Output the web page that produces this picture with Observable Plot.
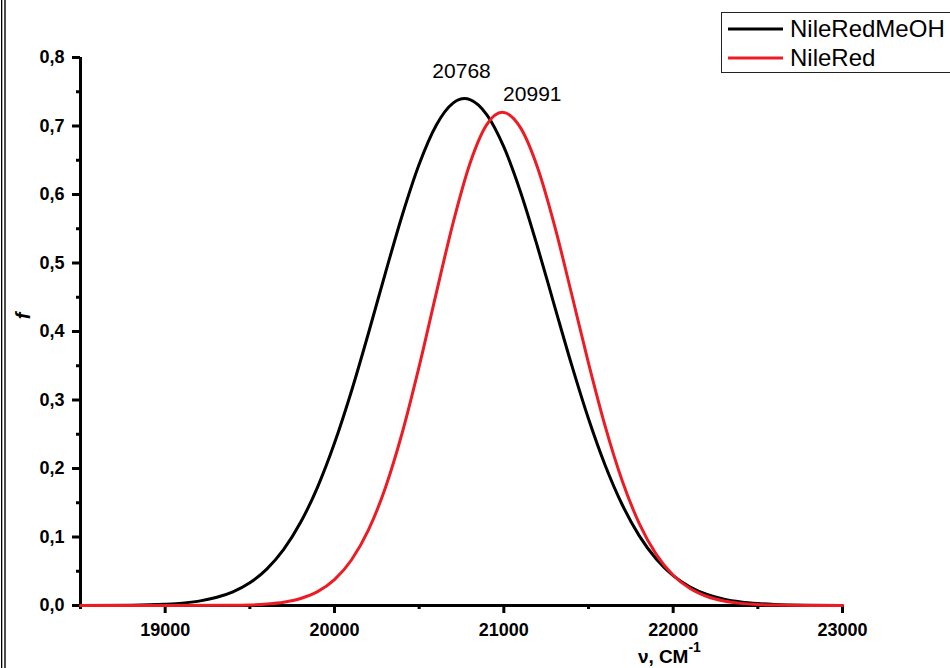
<!DOCTYPE html>
<html>
<head>
<meta charset="utf-8">
<script src="https://cdn.jsdelivr.net/npm/d3@7"></script>
<script src="https://cdn.jsdelivr.net/npm/@observablehq/plot@0.6"></script>
<style>
  html, body { margin: 0; padding: 0; background: #fff; overflow: hidden; }
  #wrap { position: relative; width: 950px; height: 668px; }
  #wrap svg { position: absolute; left: 0; top: 0; }
  .tl text { font-weight: bold; }
</style>
</head>
<body>
<div id="wrap"></div>
<script>
// ---- data ----
const blackNu = [18500, 18800, 19000, 19100, 19200, 19300, 19400, 19500, 19600, 19700, 19800, 19900, 20000, 20100, 20200, 20300, 20400, 20500, 20600, 20700, 20768, 20800, 20900, 21000, 21100, 21200, 21300, 21400, 21500, 21600, 21700, 21800, 21900, 22000, 22100, 22200, 22300, 22400, 22500, 22600, 22800, 23000];
const blackF  = [0, 0.0004, 0.0018, 0.0034, 0.0064, 0.0116, 0.0200, 0.0332, 0.0532, 0.0819, 0.1214, 0.1729, 0.2371, 0.3128, 0.3971, 0.4849, 0.5698, 0.6442, 0.7008, 0.7334, 0.7400, 0.7386, 0.7163, 0.6694, 0.6027, 0.5227, 0.4368, 0.3516, 0.2726, 0.2037, 0.1467, 0.1017, 0.0679, 0.0437, 0.0271, 0.0162, 0.0093, 0.0052, 0.0028, 0.0014, 0.0003, 0];
const redNu   = [18500, 19000, 19400, 19500, 19600, 19700, 19800, 19900, 20000, 20100, 20200, 20300, 20400, 20500, 20600, 20700, 20800, 20900, 20991, 21100, 21200, 21300, 21400, 21500, 21600, 21700, 21800, 21900, 22000, 22100, 22200, 22300, 22400, 22500, 22600, 22800, 23000];
const redF    = [0, 0, 0.0004, 0.0009, 0.0022, 0.0048, 0.0102, 0.0202, 0.0377, 0.0664, 0.1099, 0.1716, 0.2522, 0.3491, 0.4549, 0.5583, 0.6453, 0.7023, 0.7200, 0.6969, 0.6387, 0.5542, 0.4551, 0.3538, 0.2604, 0.1814, 0.1196, 0.0747, 0.0441, 0.0247, 0.0131, 0.0066, 0.0031, 0.0014, 0.0006, 0.0001, 0];
const seriesNames = ["NileRedMeOH", "NileRed"];
const peakNu = [20768, 20991];
const peakF = [0.740, 0.720];
const peakLabels = ["20768", "20991"];
const xMajorTicks = [19000, 20000, 21000, 22000, 23000];
const xMinorTicks = [18500, 19500, 20500, 21500, 22500];
const yMajorTicks = [0, 0.1, 0.2, 0.3, 0.4, 0.5, 0.6, 0.7, 0.8];
const yMinorTicks = [0.05, 0.15, 0.25, 0.35, 0.45, 0.55, 0.65, 0.75];
const xTitle = "ν, СМ";
const xTitleSup = "-1";
const yTitle = "f";

const black = blackNu.map((nu, i) => ({nu, f: blackF[i]}));
const red = redNu.map((nu, i) => ({nu, f: redF[i]}));
const peaks = peakNu.map((nu, i) => ({nu, f: peakF[i], label: peakLabels[i]}));

const FONT = "'Liberation Sans', Arial, sans-serif";
const RED = "#ed1c24";

const chart = Plot.plot({
  width: 950,
  height: 668,
  marginLeft: 80,
  marginRight: 108,
  marginTop: 57,
  marginBottom: 63,
  style: {fontFamily: FONT, fontSize: "18px", color: "#000", background: "transparent"},
  x: {domain: [18500, 23000]},
  y: {domain: [0, 0.8]},
  marks: [
    Plot.axisY(yMinorTicks, {tickSize: 4, strokeWidth: 3, text: null, label: null}),
    Plot.axisY(yMajorTicks, {tickSize: 8, tickPadding: 8, strokeWidth: 3, label: null,
      tickFormat: d => d.toFixed(1).replace(".", ","), fontSize: 18, fontWeight: "bold", className: "tl"}),
    Plot.axisX(xMinorTicks, {tickSize: 4, strokeWidth: 3, text: null, label: null}),
    Plot.axisX(xMajorTicks, {tickSize: 8, tickPadding: 10, strokeWidth: 3, label: null,
      tickFormat: d => String(d), fontSize: 18, fontWeight: "bold", className: "tl"}),
    Plot.ruleX([18500], {strokeWidth: 3}),
    Plot.ruleY([0], {strokeWidth: 3}),
    Plot.line(black, {x: "nu", y: "f", stroke: "#000", strokeWidth: 3, curve: "monotone-x"}),
    Plot.line(red, {x: "nu", y: "f", stroke: RED, strokeWidth: 3, curve: "monotone-x"}),
    Plot.text(peaks.slice(0, 1), {x: "nu", y: "f", text: "label", lineAnchor: "bottom", dx: -3, dy: -21, fontSize: 21, fill: "#000"}),
    Plot.text(peaks.slice(1, 2), {x: "nu", y: "f", text: "label", lineAnchor: "bottom", dx: 30, dy: -11, fontSize: 21, fill: "#000"})
  ]
});
document.getElementById("wrap").appendChild(chart);

// overlay: frame lines, axis titles, legend
const ns = "http://www.w3.org/2000/svg";
const ov = d3.select("#wrap").append("svg")
  .attr("xmlns", ns).attr("width", 950).attr("height", 668)
  .style("pointer-events", "none").style("font-family", FONT);
ov.append("rect").attr("x", 1).attr("y", 0).attr("width", 1.3).attr("height", 668).attr("fill", "#000");
ov.append("rect").attr("x", 4.3).attr("y", 0).attr("width", 1.4).attr("height", 668).attr("fill", "#000");

const xt = ov.append("text").attr("x", 638).attr("y", 663).attr("font-size", 19).attr("font-weight", "bold");
xt.append("tspan").text(xTitle);
xt.append("tspan").attr("dy", -11).attr("font-size", 14).text(xTitleSup);

ov.append("text").attr("transform", "translate(30,316) rotate(-90)").attr("text-anchor", "middle")
  .attr("font-size", 20).attr("font-weight", "bold").attr("font-style", "italic").text(yTitle);

const lg = ov.append("g");
lg.append("rect").attr("x", 721.5).attr("y", 12.5).attr("width", 260).attr("height", 60)
  .attr("fill", "#fff").attr("stroke", "#222").attr("stroke-width", 1);
const colors = ["#000", RED];
const ys = [29, 58];
seriesNames.forEach((name, i) => {
  lg.append("line").attr("x1", 728).attr("x2", 783).attr("y1", ys[i]).attr("y2", ys[i])
    .attr("stroke", colors[i]).attr("stroke-width", 3);
  lg.append("text").attr("x", 790).attr("y", ys[i] + 8).attr("font-size", 24).attr("fill", "#000").text(name);
});
</script>
</body>
</html>
